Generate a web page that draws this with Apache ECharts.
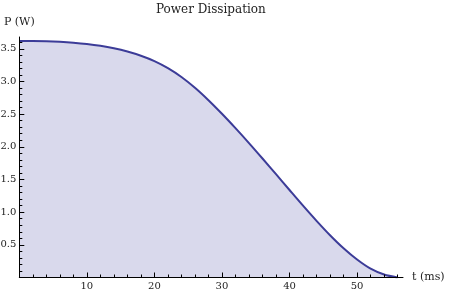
<!DOCTYPE html>
<html><head><meta charset="utf-8">
<script src="https://cdn.jsdelivr.net/npm/echarts@6/dist/echarts.min.js"></script>
<style>html,body{margin:0;padding:0;background:#fff}#c{width:453px;height:295px}</style>
</head><body><div id="c"></div>
<script>
const times = [0,2,4,6,8,10,12,14,16,18,20,22,24,26,28,30,32,34,36,38,40,42,44,46,48,50,52,54,56];
const power = [3.620,3.620,3.616,3.607,3.593,3.573,3.545,3.507,3.457,3.393,3.311,3.203,3.068,2.903,2.713,2.505,2.285,2.057,1.821,1.581,1.339,1.099,0.867,0.647,0.447,0.275,0.135,0.045,0.000];
const xTicks = [10,20,30,40,50];
const yTicks = [0.5,1.0,1.5,2.0,2.5,3.0,3.5];
const titleText = 'Power Dissipation';
const xName = 't (ms)';
const yName = 'P (W)';
const font = 'DejaVu Serif';
const xMinor = [], yMinor = [];
for (let i = 1; i <= 28; i++) if (i % 5) xMinor.push(i * 2);
for (let i = 1; i <= 36; i++) if (i % 5) yMinor.push(+(i * 0.1).toFixed(1));
const chart = echarts.init(document.getElementById('c'));
const common = {
  splitLine:{show:false},
  axisLine:{show:true,onZero:false,lineStyle:{color:'#000',width:1}},
};
chart.setOption({
  animation:false,
  title:{text:titleText,left:151,top:-1,textStyle:{fontFamily:font,fontSize:12,fontWeight:'normal',color:'#222'}},
  grid:{left:19.3,right:50,top:37,bottom:17.5,containLabel:false,outerBoundsMode:'none'},
  xAxis:[{type:'value',min:0,max:56.8,z:10,name:xName,nameLocation:'end',nameGap:9,
    nameTextStyle:{fontFamily:font,fontSize:11,color:'#222'},
    ...common,
    axisTick:{show:true,inside:true,length:5,customValues:xTicks,lineStyle:{color:'#000'}},
    axisLabel:{customValues:xTicks,fontFamily:font,fontSize:10,color:'#222',margin:4}},
   {type:'value',min:0,max:56.8,z:10,position:'bottom',
    axisLine:{show:false},splitLine:{show:false},axisLabel:{show:false},
    axisTick:{show:true,inside:true,length:3,customValues:xMinor,lineStyle:{color:'#000'}}}],
  yAxis:[{type:'value',min:0,max:3.68,z:10,name:yName,nameLocation:'end',nameGap:9,
    nameTextStyle:{fontFamily:font,fontSize:11,color:'#222',align:'center'},
    ...common,
    axisTick:{show:true,inside:true,length:5,customValues:yTicks,lineStyle:{color:'#000'}},
    axisLabel:{customValues:yTicks,fontFamily:font,fontSize:10,color:'#222',margin:3,formatter:v=>v.toFixed(1)}},
   {type:'value',min:0,max:3.68,z:10,position:'left',
    axisLine:{show:false},splitLine:{show:false},axisLabel:{show:false},
    axisTick:{show:true,inside:true,length:3,customValues:yMinor,lineStyle:{color:'#000'}}}],
  series:[{type:'line',data:times.map((t,i)=>[t,power[i]]),smooth:0.3,showSymbol:false,z:2,
    lineStyle:{color:'#3c3c98',width:2},areaStyle:{color:'#d9d9ec',opacity:1}}]
});
</script></body></html>
